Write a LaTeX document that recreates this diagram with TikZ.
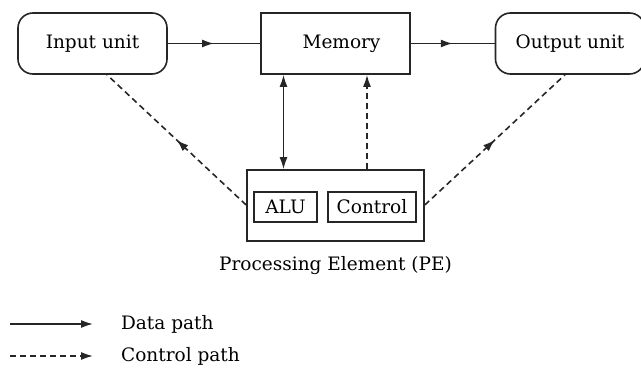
\documentclass[tikz,border=0pt]{standalone}
\usepackage{fontspec}
\setmainfont{DejaVu Serif}
\usetikzlibrary{arrows.meta,decorations.markings}
\begin{document}
\begin{tikzpicture}[x=1pt,y=-1pt,
  font=\fontsize{18.5}{22}\selectfont,
  line width=1.6pt, draw=black!85, text=black,
  unit/.style={draw, rounded corners=15pt, minimum width=149pt, minimum height=61pt, inner sep=0pt},
  sqbox/.style={draw, minimum width=149pt, minimum height=61pt, inner sep=0pt},
  pebox/.style={draw, minimum width=177pt, minimum height=71pt, inner sep=0pt},
  inbox/.style={draw, minimum height=30pt, inner sep=0pt},
  head/.tip={Latex[length=12pt,width=8pt]},
  tip/.style={-head},
  ctrl/.style={dash pattern=on 6pt off 4pt},
  midtip/.style={postaction={decorate}, decoration={markings,
    mark=at position 0.5 with {\arrow[black!85]{head}}}}
]
\useasboundingbox (0,0) rectangle (641,369);

% units along the top row
\node[unit]  (in)  at (92.5,43.5)  {Input unit};
\node[sqbox] (mem) at (335.5,43.5) {\hspace{12pt}Memory};
\node[unit]  (out) at (570,43.5)   {Output unit};

% processing element with its two parts
\node[pebox] (pe)   at (335.5,205.5) {};
\node[inbox, minimum width=63pt] (alu)  at (285.5,207) {ALU};
\node[inbox, minimum width=88pt] (ctl)  at (372,207)   {Control};
\node (pelabel) at (335.5,266) {Processing Element (PE)};

% data paths
\draw[midtip] (in.east) -- (mem.west);
\draw[midtip] (mem.east) -- (out.west);
\draw[head-head] (mem.south -| 283.5,0) -- (pe.north -| 283.5,0);

% control paths
\draw[ctrl, tip] (pe.north -| 367,0) -- (mem.south -| 367,0);
\coordinate (peL) at (pe.west |- 0,205);
\coordinate (peR) at (pe.east |- 0,205);
\draw[ctrl, midtip] (peL) -- (in.south -| 107,0);
\draw[ctrl, midtip] (peR) -- (out.south -| 565,0);

% legend
\coordinate (l1a) at (10,324);
\coordinate (l1b) at (93,324);
\coordinate (l2a) at (10,356);
\coordinate (l2b) at (93,356);
\draw[tip] (l1a) -- (l1b);
\draw[ctrl, tip] (l2a) -- (l2b);
\node[anchor=west] (t1) at (117,324) {Data path};
\node[anchor=west] (t2) at (117,356) {Control path};
\end{tikzpicture}
\end{document}
